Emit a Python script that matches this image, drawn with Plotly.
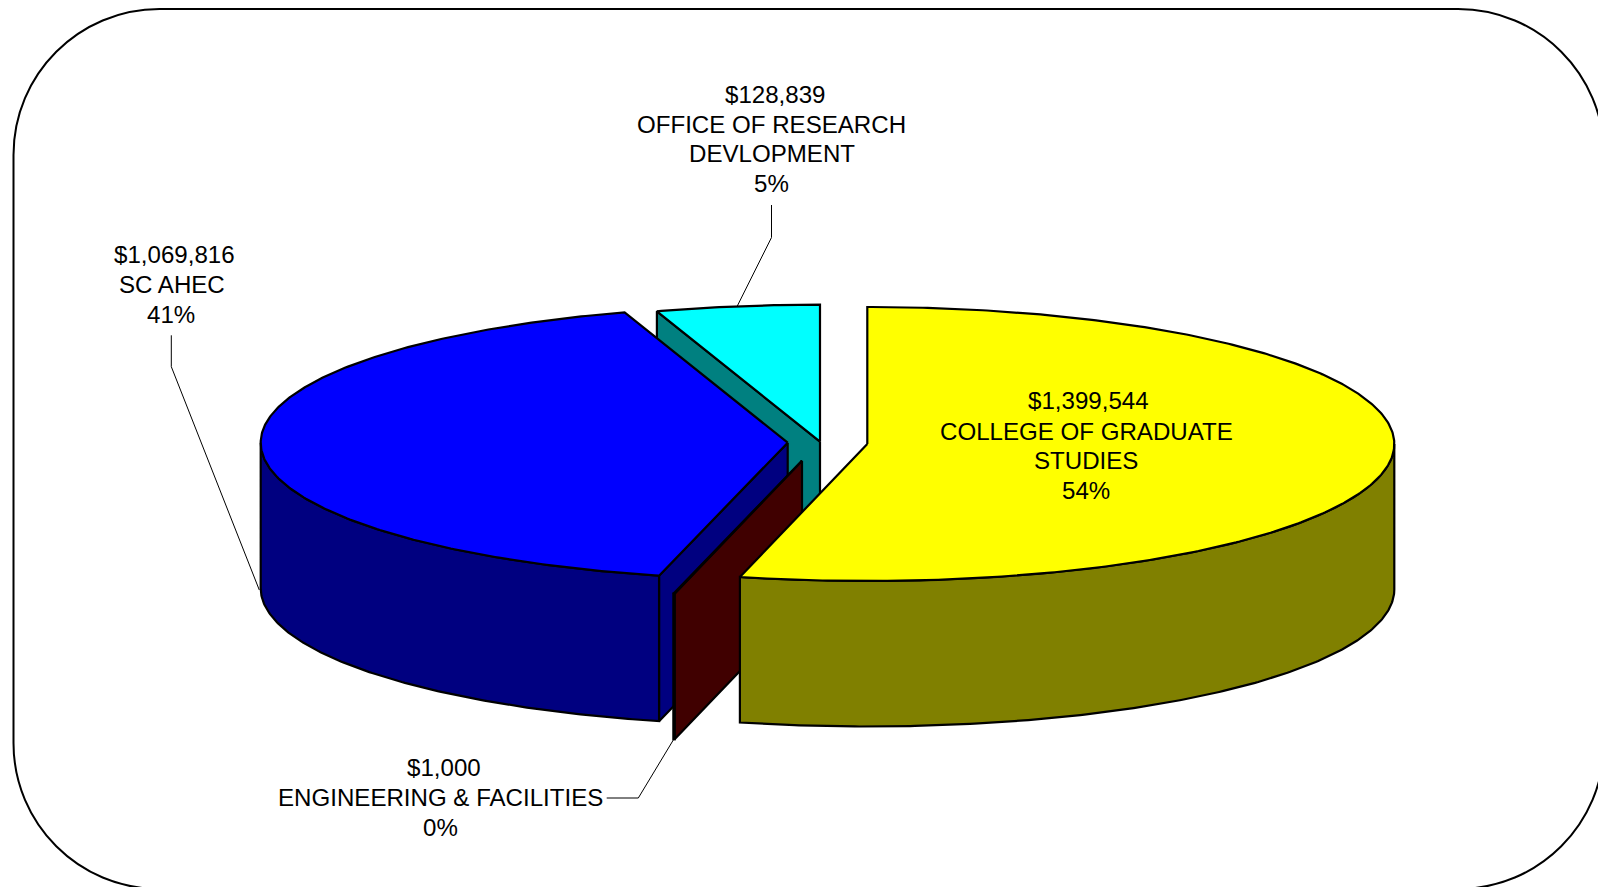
import numpy as np
import plotly.graph_objects as go

# ---- data (clockwise from 12 o'clock) ----
categories = [
    ["COLLEGE OF GRADUATE", "STUDIES"],
    ["ENGINEERING & FACILITIES"],
    ["SC AHEC"],
    ["OFFICE OF RESEARCH", "DEVLOPMENT"],
]
values = [1399544, 1000, 1069816, 128839]

top_colors = ["#FFFF00", "#FF0000", "#0000FF", "#00FFFF"]
side_colors = ["#808000", "#400000", "#000080", "#008080"]

# ---- layout of the tilted pie, in pixels of the page ----
W, H = 1598, 887
RX, RY, DEPTH = 527, 137, 145.5
RIM_WARP = 0.011
centres = [(867.3, 444.0), (802.0, 460.7), (787.7, 442.7), (820.0, 441.7)]
draw_order = [3, 2, 1, 0]
label_lines_x = [
    [1088.5, 1086, 1086, 1086],
    [443.7, 440.8, 440.7],
    [174.2, 171.5, 171.3],
    [775, 771.5, 772.2, 771.5],
]
label_lines_y = [
    [400.5, 431, 460.6, 490],
    [767.7, 797.7, 827.5],
    [254.3, 284.5, 314.2],
    [94.8, 124.3, 153.9, 183.4],
]
leaders = [
    None,
    ([606.7, 638.3, 673.3], [798, 798, 740]),
    ([171.3, 171.3, 259.3], [335.3, 366.7, 590]),
    ([771.5, 771.5, 737.3], [205, 237.5, 306]),
]
FONT = "Liberation Sans, Arial, sans-serif"
FONT_SIZE = 24.1

total = sum(values)
edges = np.concatenate([[0], np.cumsum(values)]) / total * 360.0


def rim(c, a0, a1, drop=0.0):
    n = max(2, int(abs(a1 - a0) * 2) + 2)
    t = np.radians(np.linspace(a0, a1, n))
    x = RX * np.sin(t) * (1 + RIM_WARP * np.cos(t) ** 2)
    return c[0] + x, c[1] - RY * np.cos(t) + drop


fig = go.Figure()


def poly(xs, ys, fill):
    fig.add_trace(go.Scatter(
        x=list(xs) + [xs[0]], y=list(ys) + [ys[0]], mode="lines", fill="toself",
        fillcolor=fill, line=dict(color="#000000", width=2.2),
        hoverinfo="skip", showlegend=False,
    ))


def cut_face(c, a, fill):
    x, y = rim(c, a, a)
    poly([c[0], x[0], x[0], c[0]],
         [c[1], y[0], y[0] + DEPTH, c[1] + DEPTH], fill)


for i in draw_order:
    a0, a1 = edges[i], edges[i + 1]
    c = centres[i]
    # faces turned towards the viewer
    if 180 < a0 < 360:
        cut_face(c, a0, side_colors[i])
    if 0 < a1 < 180:
        cut_face(c, a1, side_colors[i])
    s0, s1 = max(a0, 90), min(a1, 270)
    if s1 > s0:
        xt, yt = rim(c, s0, s1)
        xb, yb = rim(c, s0, s1, DEPTH)
        poly(np.concatenate([xt, xb[::-1]]), np.concatenate([yt, yb[::-1]]), side_colors[i])
    xt, yt = rim(c, a0, a1)
    poly(np.concatenate([[c[0]], xt]), np.concatenate([[c[1]], yt]), top_colors[i])

for lead in leaders:
    if lead:
        fig.add_trace(go.Scatter(x=lead[0], y=lead[1], mode="lines",
                                 line=dict(color="#000000", width=1),
                                 hoverinfo="skip", showlegend=False))

annotations = []
for i, names in enumerate(categories):
    lines = [f"${values[i]:,}"] + names + [f"{round(values[i] / total * 100)}%"]
    for text, x, y in zip(lines, label_lines_x[i], label_lines_y[i]):
        annotations.append(dict(
            x=x, y=y, text=text, showarrow=False, xanchor="center", yanchor="middle",
            font=dict(family=FONT, size=FONT_SIZE, color="#000000"),
            borderpad=0, borderwidth=0,
        ))

# rounded frame
L, T, R, B, r = 13.5, 9.0, 1604.0, 889.0, 146.0
k = r * 0.4477
frame = (
    f"M {L + r},{T} L {R - r},{T} C {R - k},{T} {R},{T + k} {R},{T + r} "
    f"L {R},{B - r} C {R},{B - k} {R - k},{B} {R - r},{B} "
    f"L {L + r},{B} C {L + k},{B} {L},{B - k} {L},{B - r} "
    f"L {L},{T + r} C {L},{T + k} {L + k},{T} {L + r},{T} Z"
)

fig.update_layout(
    width=W, height=H, margin=dict(l=0, r=0, t=0, b=0, pad=0),
    paper_bgcolor="#FFFFFF", plot_bgcolor="#FFFFFF", showlegend=False,
    xaxis=dict(range=[0, W], visible=False, fixedrange=True),
    yaxis=dict(range=[H, 0], visible=False, fixedrange=True),
    shapes=[dict(type="path", path=frame, line=dict(color="#000000", width=2), layer="below")],
    annotations=annotations,
)
page_style = "document.body.style.margin='0';document.body.style.overflow='hidden';"
fig.write_html("out.html", config={"displayModeBar": False}, post_script=page_style)
